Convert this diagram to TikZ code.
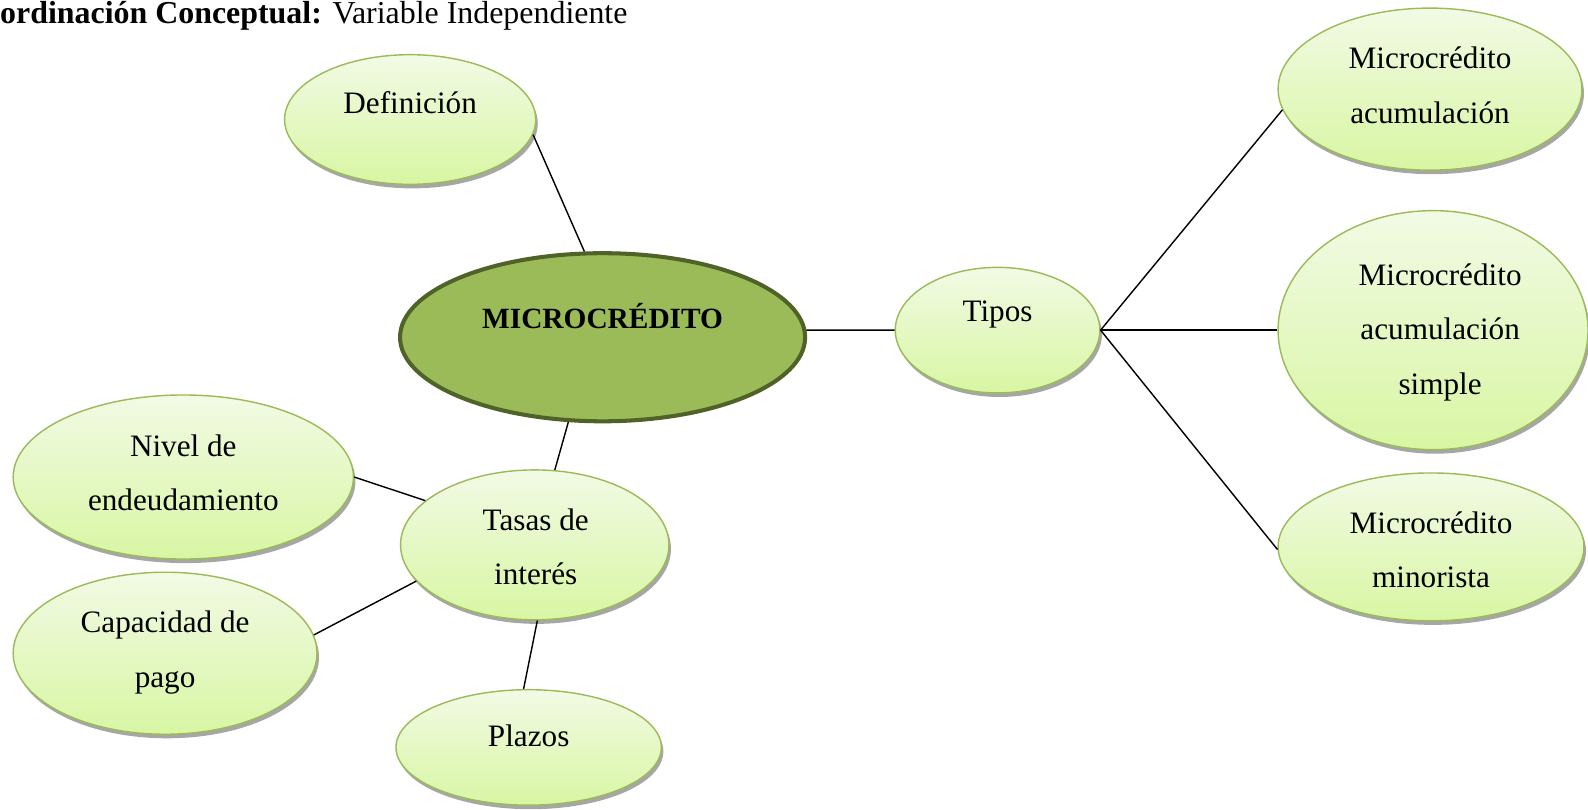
\documentclass[tikz,border=0pt]{standalone}
\usepackage{fontspec}
\setmainfont{Liberation Serif}
\usetikzlibrary{shapes.geometric,shadows}
\definecolor{leafedge}{HTML}{9BBB59}
\definecolor{leaftop}{HTML}{F2FAE5}
\definecolor{leafbottom}{HTML}{D8F6A3}
\definecolor{corefill}{HTML}{9BBB59}
\definecolor{coreedge}{HTML}{4F6228}
\definecolor{shadowgray}{HTML}{9C9C9C}

\begin{document}
\begin{tikzpicture}[x=1pt,y=-1pt,
  bubble/.style={ellipse, draw=leafedge, line width=1.4pt,
    top color=leaftop, bottom color=leafbottom, inner sep=0pt,
    drop shadow={shadow xshift=2pt, shadow yshift=-4pt, fill=shadowgray, opacity=0.9}},
  core/.style={ellipse, draw=coreedge, line width=4pt, fill=corefill, inner sep=0pt},
  txt/.style={font=\fontsize{30.8}{54}\selectfont, align=center, inner sep=0pt},
  link/.style={draw=black, line width=1.4pt}]

\useasboundingbox (0,0) rectangle (1568,799);

% heading
\node[anchor=base west, inner sep=0pt, font=\fontsize{31.5}{37}\selectfont] (title) at (0,23)
  {\textbf{ordinación Conceptual:} Variable Independiente};

% central concept
\node[core, minimum width=400, minimum height=166] (core) at (595,333) {};
\node[txt, font=\fontsize{29}{54}\selectfont\bfseries] (coret) at (595,312) {MICROCRÉDITO};

% branches
\node[bubble, minimum width=248, minimum height=128] (def) at (405,118) {};
\node[txt] (deft) at (405,101) {Definición};

\node[bubble, minimum width=202, minimum height=124] (tipos) at (985,326) {};
\node[txt] (tipost) at (985,311) {Tipos};

\node[bubble, minimum width=300, minimum height=160] (acum) at (1412,88) {};
\node[txt] (acumt) at (1412,84) {Microcrédito\\acumulación};

\node[bubble, minimum width=306, minimum height=236] (simple) at (1415,326) {};
\node[txt] (simplet) at (1422,328) {Microcrédito\\acumulación\\simple};

\node[bubble, minimum width=302, minimum height=146] (minor) at (1413,540) {};
\node[txt] (minort) at (1413,543) {Microcrédito\\minorista};

\node[bubble, minimum width=265, minimum height=148] (tasas) at (528,538) {};
\node[txt] (tasast) at (529,540) {Tasas de\\interés};

\node[bubble, minimum width=336, minimum height=162] (nivel) at (181,471) {};
\node[txt] (nivelt) at (181,467) {Nivel de\\endeudamiento};

\node[bubble, minimum width=300, minimum height=160] (capac) at (163,645) {};
\node[txt] (capact) at (163,644) {Capacidad de\\pago};

\node[bubble, minimum width=262, minimum height=114] (plazos) at (522,738) {};
\node[txt] (plazost) at (522,727) {Plazos};

% connectors
\draw[link] (def.-7) -- (core.102);
\draw[link] (core.2) -- (tipos.180);
\draw[link] (tipos.0) -- (acum.188);
\draw[link] (tipos.0) -- (simple.180);
\draw[link] (tipos.0) -- (minor.181);
\draw[link] (core.-112) -- (tasas.75);
\draw[link] (nivel.0) -- (tasas.158);
\draw[link] (capac.7) -- (tasas.197);
\draw[link] (tasas.-88) -- (plazos.95);
\end{tikzpicture}
\end{document}
